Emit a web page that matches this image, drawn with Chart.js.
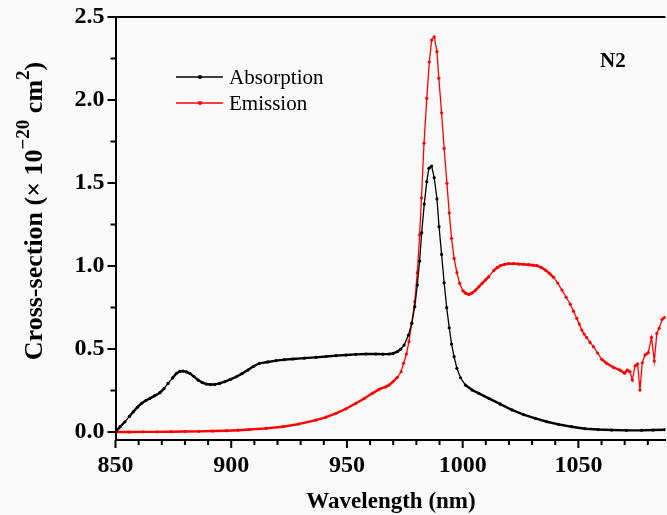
<!DOCTYPE html>
<html><head><meta charset="utf-8">
<script src="https://cdn.jsdelivr.net/npm/chart.js@4.4.1/dist/chart.umd.min.js"></script>
<style>html,body{margin:0;padding:0;background:#f9f9f9;}#wrap{width:667px;height:515px;position:relative;overflow:hidden}</style>
</head><body><div id="wrap"><canvas id="c" width="667" height="515"></canvas></div>
<script>
// ---- data ----
const absX = [850.0,852.0,854.1,856.0,857.7,859.5,861.3,863.1,864.9,867.0,869.2,871.0,872.7,874.6,876.4,877.8,879.2,880.6,882.1,883.9,885.7,887.5,889.3,891.1,892.9,895.0,897.2,899.7,902.2,904.7,907.2,909.7,912.2,915.8,919.4,923.0,926.6,931.6,936.6,941.0,945.3,949.6,953.9,958.2,962.5,965.5,968.2,970.0,971.8,973.3,974.7,976.6,978.0,979.3,980.4,981.4,982.3,983.4,984.5,985.4,986.6,987.7,988.9,989.8,990.9,992.0,993.1,994.2,995.2,996.3,997.5,999.1,1001.2,1004.1,1007.0,1011.3,1016.3,1021.3,1026.3,1031.4,1036.4,1041.4,1047.1,1052.9,1058.6,1064.4,1070.8,1077.3,1082.3,1087.4];
const absY = [0.000,0.032,0.062,0.094,0.122,0.150,0.173,0.190,0.203,0.219,0.237,0.262,0.293,0.325,0.354,0.365,0.367,0.362,0.354,0.334,0.313,0.298,0.289,0.286,0.287,0.293,0.303,0.317,0.333,0.352,0.373,0.396,0.414,0.422,0.430,0.436,0.440,0.445,0.450,0.455,0.460,0.464,0.468,0.470,0.470,0.469,0.470,0.474,0.484,0.500,0.524,0.584,0.655,0.755,0.886,1.030,1.201,1.373,1.508,1.589,1.602,1.532,1.404,1.237,1.070,0.899,0.749,0.628,0.530,0.454,0.384,0.327,0.283,0.253,0.233,0.203,0.168,0.133,0.105,0.082,0.062,0.046,0.032,0.020,0.015,0.012,0.010,0.010,0.012,0.014];
const emiX = [850.0,856,862,868,874,880,886,892,898,903,907.9,915,922.3,929,936.6,941,945.3,949.6,953.9,957.5,961.0,964.0,966.8,968.2,969.9,971.8,973.4,974.5,975.7,976.8,978.0,979.3,980.4,981.4,982.2,983.3,984.5,985.6,986.6,987.7,988.9,989.7,990.9,992.0,993.2,994.2,995.2,996.3,997.5,998.7,1000.1,1001.4,1002.7,1004.1,1005.6,1007.0,1008.4,1009.9,1011.3,1013.4,1014.9,1016.3,1018.1,1019.9,1022.0,1024.2,1026.4,1028.5,1030.3,1032.1,1033.9,1035.7,1037.5,1039.3,1041.1,1042.9,1044.7,1046.5,1047.9,1049.3,1050.4,1051.5,1052.5,1053.6,1055.0,1056.5,1058.3,1060.1,1062.2,1065.1,1068.0,1069.9,1071.1,1072.3,1073.3,1074.5,1075.6,1076.6,1077.6,1078.8,1080.2,1081.6,1082.8,1083.9,1084.9,1086.2,1087.4];
const emiY = [0.000,0.000,0.001,0.001,0.002,0.003,0.004,0.006,0.008,0.011,0.015,0.022,0.032,0.048,0.072,0.090,0.113,0.140,0.173,0.202,0.233,0.258,0.272,0.283,0.303,0.330,0.363,0.414,0.470,0.544,0.655,0.785,0.960,1.187,1.410,1.739,2.010,2.229,2.361,2.381,2.291,2.131,1.923,1.709,1.498,1.320,1.167,1.046,0.960,0.896,0.851,0.835,0.829,0.838,0.855,0.875,0.896,0.917,0.936,0.972,0.990,1.002,1.010,1.014,1.014,1.012,1.010,1.008,1.005,1.002,0.992,0.976,0.956,0.932,0.897,0.855,0.812,0.770,0.728,0.685,0.650,0.614,0.590,0.569,0.540,0.514,0.476,0.438,0.414,0.390,0.373,0.354,0.373,0.363,0.313,0.398,0.410,0.253,0.417,0.464,0.478,0.570,0.428,0.594,0.625,0.679,0.691];
const xTickValues = [850,860,870,880,890,900,910,920,930,940,950,960,970,980,990,1000,1010,1020,1030,1040,1050,1060,1070,1080];
const xTickLabels = [850,900,950,1000,1050];
const yTickValues = [0,0.25,0.5,0.75,1.0,1.25,1.5,1.75,2.0,2.25,2.5];
const yTickLabels = [0,0.5,1.0,1.5,2.0,2.5];
const seriesNames = ['Absorption','Emission'];
const panelLabel = 'N2';
const xTitle = 'Wavelength (nm)';
const yTitleParts = [['Cross-section (× 10',false],['−20',true],[' cm',false],['2',true],[')',false]];

const SERIF = '"Liberation Serif","Times New Roman",serif';
const RED = '#ff0000', BLACK = '#000000';

// thicker stroke on shallow stretches, where the reference's dense markers merge into a band
const segWidth = c => {
  const dx = Math.abs(c.p1.x - c.p0.x), dy = Math.abs(c.p1.y - c.p0.y);
  return dy < dx * 1.2 ? 2.4 : 1.3;
};

const decor = {
  id:'decor',
  afterDraw(chart){
    const {ctx, chartArea:a, scales:{x,y}} = chart;
    ctx.save();
    ctx.strokeStyle = '#000'; ctx.lineWidth = 2;
    ctx.beginPath(); ctx.moveTo(a.left-1, a.top); ctx.lineTo(a.right, a.top); ctx.stroke();
    xTickValues.forEach(v=>{
      const px = x.getPixelForValue(v);
      const L = xTickLabels.includes(v) ? 8 : 5;
      ctx.beginPath(); ctx.moveTo(px, a.bottom); ctx.lineTo(px, a.bottom+L); ctx.stroke();
    });
    yTickValues.forEach(v=>{
      const py = y.getPixelForValue(v);
      const L = yTickLabels.includes(v) ? 8 : 5;
      ctx.beginPath(); ctx.moveTo(a.left, py); ctx.lineTo(a.left-L, py); ctx.stroke();
    });
    // legend
    const ds = chart.data.datasets;
    [[0,77],[1,103]].forEach(([i,ly])=>{
      const col = ds[i].borderColor;
      ctx.strokeStyle = col; ctx.lineWidth = 1.5;
      ctx.beginPath(); ctx.moveTo(176, ly); ctx.lineTo(223, ly); ctx.stroke();
      ctx.fillStyle = col; ctx.beginPath(); ctx.arc(200, ly, 2, 0, Math.PI*2); ctx.fill();
      ctx.fillStyle = '#000'; ctx.font = '21px '+SERIF; ctx.textBaseline='alphabetic'; ctx.textAlign='left';
      ctx.fillText(ds[i].label, 229, ly+7);
    });
    // panel label
    ctx.font = 'bold 21px '+SERIF; ctx.fillStyle='#000';
    ctx.fillText(panelLabel, 600, 67);
    // x title
    ctx.font = 'bold 23px '+SERIF; ctx.textAlign='center';
    ctx.fillText(xTitle, 391, 508);
    // y title with superscripts
    ctx.save();
    ctx.translate(42, 211);
    ctx.rotate(-Math.PI/2);
    const mainF = 'bold 26px '+SERIF, supF = 'bold 19px '+SERIF;
    let total = 0;
    yTitleParts.forEach(([t,s])=>{ ctx.font = s?supF:mainF; total += ctx.measureText(t).width; });
    let cx = -total/2;
    ctx.textAlign='left';
    yTitleParts.forEach(([t,s])=>{
      ctx.font = s?supF:mainF;
      ctx.fillText(t, cx, s?-13:0);
      cx += ctx.measureText(t).width;
    });
    ctx.restore();
    ctx.restore();
  }
};

new Chart(document.getElementById('c'), {
  type:'line',
  data:{datasets:[
    {label:seriesNames[0], data:absX.map((v,i)=>({x:v,y:absY[i]})), borderColor:BLACK, backgroundColor:BLACK, borderWidth:1.3, segment:{borderWidth:segWidth}, pointRadius:1.6, pointHoverRadius:1.6, pointBorderWidth:0, tension:0, order:0},
    {label:seriesNames[1], data:emiX.map((v,i)=>({x:v,y:emiY[i]})), borderColor:RED, backgroundColor:RED, borderWidth:1.3, segment:{borderWidth:segWidth}, pointRadius:1.6, pointHoverRadius:1.6, pointBorderWidth:0, tension:0, order:1}
  ]},
  options:{
    responsive:false, devicePixelRatio:1, animation:false,
    layout:{padding:{left:0,right:0,top:0,bottom:0}},
    plugins:{legend:{display:false}, tooltip:{enabled:false}},
    scales:{
      x:{type:'linear', min:850, max:1087.6,
        afterBuildTicks:s=>{s.ticks = xTickValues.map(v=>({value:v}));},
        afterFit:s=>{s.height = 75;},
        grid:{display:false, drawTicks:false},
        border:{display:true, color:'#000', width:2},
        ticks:{autoSkip:false, maxRotation:0, padding:11, color:'#000', font:{family:SERIF, weight:'bold', size:24},
          callback:v=> xTickLabels.includes(v) ? String(v) : ''}
      },
      y:{type:'linear', min:-0.048, max:2.5,
        afterBuildTicks:s=>{s.ticks = yTickValues.map(v=>({value:v}));},
        afterFit:s=>{s.width = 115.5; s.paddingTop = 17;},
        grid:{display:false, drawTicks:false},
        border:{display:true, color:'#000', width:2},
        ticks:{autoSkip:false, padding:11, color:'#000', font:{family:SERIF, weight:'bold', size:24},
          callback:v=> yTickLabels.includes(v) ? v.toFixed(1) : ''}
      }
    }
  },
  plugins:[decor]
});
</script></body></html>
